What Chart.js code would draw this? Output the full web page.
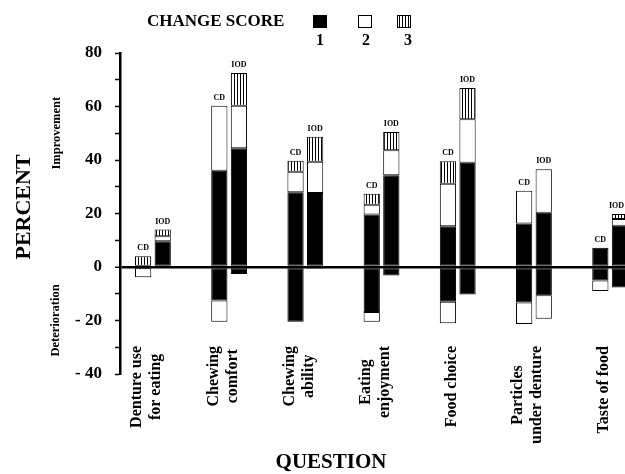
<!DOCTYPE html>
<html>
<head>
<meta charset="utf-8">
<script src="https://cdn.jsdelivr.net/npm/chart.js@4.4.0/dist/chart.umd.min.js"></script>
<style>
  body { margin: 0; background: #fff; }
</style>
</head>
<body>
<canvas id="chart" width="625" height="474"></canvas>
<script>
const questions = [
    ['Denture use', 'for eating'],
    ['Chewing', 'comfort'],
    ['Chewing', 'ability'],
    ['Eating', 'enjoyment'],
    ['Food choice'],
    ['Particles', 'under denture'],
    ['Taste of food']
];
const groups = ['CD', 'IOD'];
const scoreLabels = ['1', '2', '3'];

// percent of patients, improvement (up) and deterioration (down) per change score
const cdImp1 = [0, 36, 27.9, 19.6, 15.2, 16.3, 7.2];
const cdImp2 = [0, 24.3, 7.7, 3.7, 15.9, 12.2, 0];
const cdImp3 = [4, 0, 4.1, 4.1, 8.4, 0, 0];
const cdDet1 = [0, 12.5, 20.5, 16.8, 13, 13.3, 5];
const cdDet2 = [3.8, 8, 0, 3.7, 8, 8, 4];

const iodImp1 = [9.6, 44.4, 27.7, 34.3, 39, 20.3, 15.4];
const iodImp2 = [1.9, 15.9, 11.6, 9.3, 16.2, 16.2, 2.5];
const iodImp3 = [2.5, 12.2, 9.4, 6.9, 11.7, 0, 1.9];
const iodDet1 = [0, 2.6, 0.7, 3.2, 10.3, 10.6, 7.7];
const iodDet2 = [0, 0, 0, 0, 0, 8.7, 0];

const serif = '"Liberation Serif", "Times New Roman", serif';

const ctx0 = document.getElementById('chart').getContext('2d');

// vertical hatching for score 3
function hatch() {
    const c = document.createElement('canvas');
    c.width = 3; c.height = 4;
    const g = c.getContext('2d');
    g.fillStyle = '#fff';
    g.fillRect(0, 0, 3, 4);
    g.fillStyle = '#000';
    g.fillRect(0, 0, 1, 4);
    return ctx0.createPattern(c, 'repeat');
}
const fills = ['#000', '#fff', hatch()];

function series(label, values, fill, stack, sign) {
    return {
        label: label,
        data: values.map((v, i) => ({x: i, y: v ? sign * v : null})),
        backgroundColor: fill,
        borderColor: '#000',
        borderWidth: 1,
        borderSkipped: false,
        stack: stack
    };
}

const datasets = [
    series('1', cdImp1, fills[0], 'CD', 1),
    series('2', cdImp2, fills[1], 'CD', 1),
    series('3', cdImp3, fills[2], 'CD', 1),
    series('1', cdDet1, fills[0], 'CD', -1),
    series('2', cdDet2, fills[1], 'CD', -1),
    series('1', iodImp1, fills[0], 'IOD', 1),
    series('2', iodImp2, fills[1], 'IOD', 1),
    series('3', iodImp3, fills[2], 'IOD', 1),
    series('1', iodDet1, fills[0], 'IOD', -1),
    series('2', iodDet2, fills[1], 'IOD', -1)
];

function vtext(ctx, t, x, y, size) {
    ctx.save();
    ctx.translate(x, y);
    ctx.rotate(-Math.PI / 2);
    ctx.font = 'bold ' + size + 'px ' + serif;
    ctx.textAlign = 'center';
    ctx.textBaseline = 'middle';
    ctx.fillText(t, 0, 0);
    ctx.restore();
}

const annotate = {
    id: 'annotate',
    afterDraw(chart) {
        const ctx = chart.ctx;
        const x = chart.scales.x;
        const y = chart.scales.y;
        ctx.save();
        ctx.fillStyle = '#000';

        // CD / IOD above each bar
        ctx.font = 'bold 8px ' + serif;
        ctx.textAlign = 'center';
        ctx.textBaseline = 'bottom';
        questions.forEach((q, i) => {
            groups.forEach(g => {
                let top = null, bx = null;
                chart.data.datasets.forEach((d, k) => {
                    if (d.stack !== g || !(d.data[i].y > 0)) return;
                    const el = chart.getDatasetMeta(k).data[i];
                    if (top === null || el.y < top) { top = el.y; bx = el.x; }
                });
                if (top === null) return;
                const half = ctx.measureText(g).width / 2;
                ctx.fillText(g, Math.min(bx, chart.width - half - 1), top - 4);
            });
        });

        // question labels, rotated, lines centred on each other
        ctx.font = 'bold 16px ' + serif;
        questions.forEach((lines, i) => {
            const w = Math.max(...lines.map(l => ctx.measureText(l).width));
            const cx = x.getPixelForValue(i - 0.08);
            lines.forEach((l, k) => {
                vtext(ctx, l, cx + (k - (lines.length - 1) / 2) * 19, 346 + w / 2, 16);
            });
        });

        // legend
        ctx.font = 'bold 17px ' + serif;
        ctx.textAlign = 'left';
        ctx.textBaseline = 'middle';
        ctx.fillText('CHANGE SCORE', 147, 22);
        ctx.font = 'bold 16px ' + serif;
        const boxX = [313, 358, 397];
        const numX = [320, 366, 408];
        scoreLabels.forEach((s, k) => {
            ctx.fillStyle = chart.data.datasets[k].backgroundColor;
            ctx.fillRect(boxX[k], 15, 14, 13);
            ctx.strokeStyle = '#000';
            ctx.lineWidth = 1;
            ctx.strokeRect(boxX[k] + 0.5, 15.5, 13, 12);
            ctx.fillStyle = '#000';
            ctx.textAlign = 'center';
            ctx.fillText(s, numX[k], 41);
        });

        // axis titles
        vtext(ctx, 'PERCENT', 24, 207, 22);
        vtext(ctx, 'Improvement', 57, y.getPixelForValue(50), 12.5);
        vtext(ctx, 'Deterioration', 56, y.getPixelForValue(-20), 12.5);
        ctx.font = 'bold 21px ' + serif;
        ctx.textAlign = 'center';
        ctx.textBaseline = 'middle';
        ctx.fillText('QUESTION', 331, 463);
        ctx.restore();
    }
};

const config = {
    type: 'bar',
    data: { datasets: datasets },
    options: {
        responsive: false,
        animation: false,
        categoryPercentage: 0.514,
        barPercentage: 0.83,
        layout: {
            autoPadding: false,
            padding: { top: 53, left: 0, right: 0, bottom: 0 }
        },
        plugins: {
            legend: { display: false },
            tooltip: { enabled: false }
        },
        scales: {
            x: {
                type: 'linear',
                offset: false,
                min: -0.432,
                max: 6.195,
                grid: { display: false },
                border: { display: false },
                ticks: {
                    display: false,
                    stepSize: 1,
                    includeBounds: false
                },
                afterFit: s => { s.height = 100; }
            },
            y: {
                min: -40,
                max: 80,
                stacked: true,
                ticks: {
                    stepSize: 10,
                    padding: 13,
                    color: '#000',
                    font: { family: serif, weight: 'bold', size: 17 },
                    callback: v => v % 20 === 0 ? (v < 0 ? '- ' + (-v) : '' + v) : ''
                },
                grid: {
                    color: c => (c.tick && c.tick.value === 0) ? '#000' : 'rgba(0,0,0,0)',
                    lineWidth: c => (c.tick && c.tick.value === 0) ? 2.5 : 1,
                    tickColor: '#000',
                    tickLength: 5,
                    tickWidth: 1.5
                },
                border: { color: '#000', width: 2.5 },
                afterFit: s => { s.width = 120; }
            }
        }
    },
    plugins: [annotate]
};

new Chart(ctx0, config);
</script>
</body>
</html>
